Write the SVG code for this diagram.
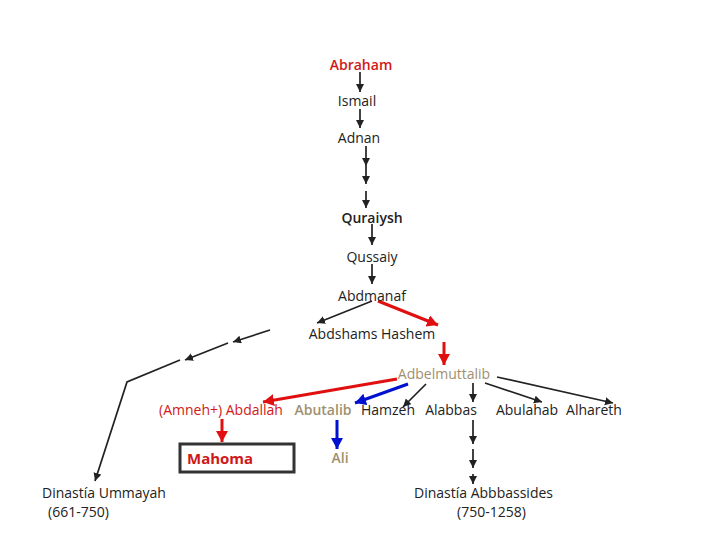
<svg xmlns="http://www.w3.org/2000/svg" width="720" height="540" viewBox="0 0 720 540">
<style>
text{font-family:"Open Sans","Liberation Sans",sans-serif;font-size:14px;fill:#222}
.c{text-anchor:middle}
.red{fill:#d01818}
.tan{fill:#a09070}
.b{font-weight:600;font-size:14px}
.k{stroke:#222;stroke-width:1.7;fill:none;marker-end:url(#ak)}
.r{stroke:#e01010;stroke-width:3;fill:none;marker-end:url(#ar)}
.u{stroke:#0010d0;stroke-width:3;fill:none;marker-end:url(#au)}
</style>
<defs>
<marker id="ak" markerUnits="userSpaceOnUse" markerWidth="10" markerHeight="10" refX="8" refY="4" orient="auto"><path d="M0,0 L8,4 L0,8 Z" fill="#222"/></marker>
<marker id="ar" markerUnits="userSpaceOnUse" markerWidth="14" markerHeight="14" refX="11" refY="6" orient="auto"><path d="M0,0 L11,6 L0,12 Z" fill="#e01010"/></marker>
<marker id="au" markerUnits="userSpaceOnUse" markerWidth="14" markerHeight="14" refX="11" refY="6" orient="auto"><path d="M0,0 L11,6 L0,12 Z" fill="#0010d0"/></marker>
</defs>
<rect width="720" height="540" fill="#fff"/>
<g id="connectors">
<line class="k" x1="360" y1="72" x2="360" y2="92"/>
<line class="k" x1="360" y1="109" x2="360" y2="128"/>
<line class="k" x1="366" y1="146" x2="366" y2="166"/>
<line class="k" x1="366" y1="166" x2="366" y2="184"/>
<line class="k" x1="366" y1="191" x2="366" y2="208"/>
<line class="k" x1="372" y1="224" x2="372" y2="245"/>
<line class="k" x1="372" y1="264" x2="372" y2="284"/>
<line class="k" x1="372" y1="301" x2="317" y2="323"/>
<line class="r" x1="378" y1="301" x2="438" y2="325"/>
<line class="r" x1="444" y1="342" x2="444" y2="365"/>
<line class="k" x1="270" y1="330" x2="233" y2="342"/>
<line class="k" x1="228" y1="343" x2="185" y2="360"/>
<polyline class="k" points="180,360 127,382 95,481"/>
<line class="r" x1="397" y1="379" x2="263" y2="402"/>
<line class="u" x1="408" y1="384" x2="355" y2="403"/>
<line class="k" x1="426" y1="384" x2="403" y2="407"/>
<line class="k" x1="473" y1="383" x2="473" y2="402"/>
<line class="k" x1="485" y1="383" x2="542" y2="402"/>
<line class="k" x1="497" y1="377" x2="613" y2="403"/>
<line class="r" x1="222" y1="419" x2="222" y2="442"/>
<line class="u" x1="337" y1="420" x2="337" y2="449"/>
<line class="k" x1="473" y1="420" x2="473" y2="444"/>
<line class="k" x1="473" y1="449" x2="473" y2="468"/>
<line class="k" x1="473" y1="474" x2="473" y2="484"/>
</g>
<g id="abraham"><text class="c red b" x="361" y="70">Abraham</text></g>
<g id="ismail"><text class="c" x="357" y="106">Ismail</text></g>
<g id="adnan"><text class="c" x="359" y="143">Adnan</text></g>
<g id="quraiysh"><text class="c b" x="372" y="223">Quraiysh</text></g>
<g id="qussaiy"><text class="c" x="372" y="262">Qussaiy</text></g>
<g id="abdmanaf"><text class="c" x="372" y="301">Abdmanaf</text></g>
<g id="abdshams-hashem"><text class="c" x="372" y="339">Abdshams Hashem</text></g>
<g id="adbelmuttalib"><text class="c tan" x="444" y="379">Adbelmuttalib</text></g>
<g id="abdallah"><text class="c red" x="221" y="415">(Amneh+) Abdallah</text></g>
<g id="abutalib"><text class="c tan b" x="323" y="415">Abutalib</text></g>
<g id="hamzeh"><text class="c" x="388" y="415">Hamzeh</text></g>
<g id="alabbas"><text class="c" x="451" y="415">Alabbas</text></g>
<g id="abulahab"><text class="c" x="527" y="415">Abulahab</text></g>
<g id="alhareth"><text class="c" x="594" y="415">Alhareth</text></g>
<g id="mahoma"><rect x="180" y="444" width="114" height="28" fill="none" stroke="#333" stroke-width="3"/><text class="red" x="187" y="464" style="font-size:15px;font-weight:bold">Mahoma</text></g>
<g id="ali"><text class="c tan b" x="340" y="463">Ali</text></g>
<g id="ummayah"><text x="42" y="498">Dinastía Ummayah</text><text x="48" y="517">(661-750)</text></g>
<g id="abbassides"><text x="414" y="498">Dinastía  Abbbassides</text><text x="457" y="517">(750-1258)</text></g>
</svg>
